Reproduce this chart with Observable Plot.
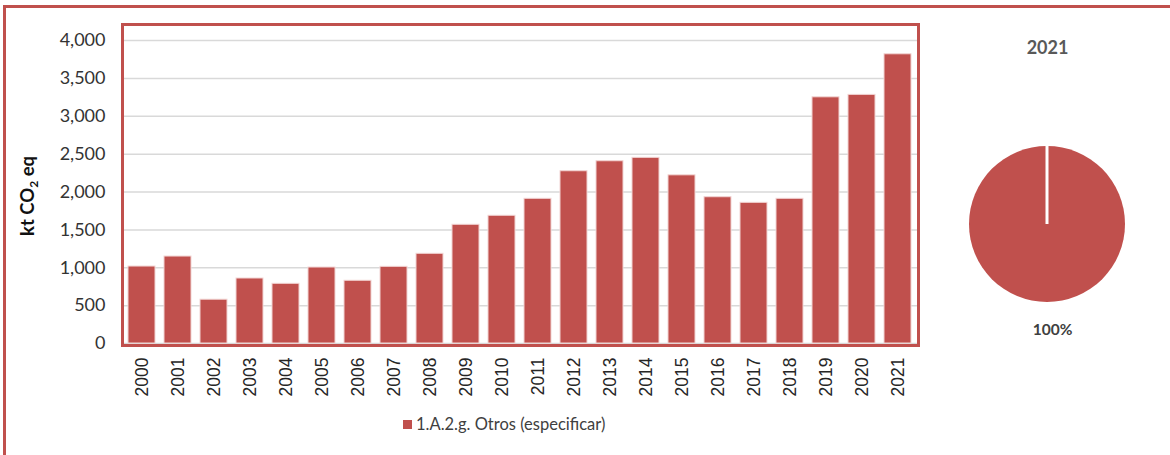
<!DOCTYPE html>
<html><head><meta charset="utf-8">
<script src="https://cdn.jsdelivr.net/npm/d3@7"></script>
<script src="https://cdn.jsdelivr.net/npm/@observablehq/plot@0.6"></script>
<style>
html,body{margin:0;padding:0;background:#fff;width:1170px;height:455px;overflow:hidden;font-family:Lato,sans-serif;}
#wrap{position:relative;width:1170px;height:455px;overflow:hidden;}
#box{position:absolute;left:3px;top:5px;width:1220px;height:520px;border:3px solid #c0504d;box-sizing:border-box;}
#bars{position:absolute;left:0;top:0;}
#pie{position:absolute;left:930px;top:0;}
#legend{position:absolute;left:403px;top:414px;font-size:16.5px;color:#404040;display:flex;align-items:center;white-space:nowrap;}
#legend .sw{display:inline-block;width:9px;height:9px;background:#c0504d;margin-right:4px;}
</style></head>
<body>
<div id="wrap">
  <div id="box"></div>
  <div id="bars"></div>
  <div id="pie"></div>
  <div id="legend"></div>
</div>
<script>
const years = ["2000","2001","2002","2003","2004","2005","2006","2007","2008","2009","2010","2011","2012","2013","2014","2015","2016","2017","2018","2019","2020","2021"];
const values = [1016,1148,578,858,788,1003,828,1012,1184,1567,1686,1910,2274,2406,2451,2220,1931,1857,1910,3250,3282,3818];
const yTicks = [0,500,1000,1500,2000,2500,3000,3500,4000];
const seriesName = "1.A.2.g. Otros (especificar)";
const yLabel = "kt CO2 eq";
const pieYear = "2021";
const pieCategories = [seriesName];
const pieShares = [100];

const color = "#c0504d";
const data = years.map((year, i) => ({year, value: values[i]}));

const bars = Plot.plot({
  width: 930, height: 455,
  marginLeft: 122, marginRight: 12, marginTop: 24, marginBottom: 110,
  style: {fontFamily: "Lato, sans-serif", background: "transparent"},
  x: {domain: years, range: [122, 918], paddingInner: 0.24, paddingOuter: 0.15, label: null},
  y: {domain: [0, 4000], range: [343, 40], label: null},
  marks: [
    Plot.gridY(yTicks, {stroke: "#d9d9d9", strokeOpacity: 1, strokeWidth: 1.5}),
    Plot.barY(data, {x: "year", y: "value", fill: color, stroke: "#f2d4d3", strokeWidth: 1}),
    Plot.frame({stroke: color, strokeWidth: 3}),
    Plot.axisY(yTicks, {tickSize: 0, tickPadding: 17, tickFormat: d3.format(","), fontSize: 18, fill: "#333", label: null}),
    Plot.axisX({tickSize: 0, tickRotate: -90, tickPadding: 12, fontSize: 17.5, fontFamily: "'Liberation Sans', Arial, sans-serif", fill: "#262626", label: null}),
    Plot.text([yLabel], {frameAnchor: "left", dx: -94, dy: 51, rotate: -90, fontSize: 18.5, fontWeight: "bold", fill: "#111", className: "ylab", style: "letter-spacing:0.6px"})
  ]
});
document.getElementById("bars").appendChild(bars);
// subscript the "2" of CO2
d3.select(bars).selectAll(".ylab text").each(function() {
  const t = d3.select(this);
  const s = t.text();
  const i = s.indexOf("CO2");
  if (i >= 0) {
    t.text(null);
    t.append("tspan").text(s.slice(0, i + 2));
    t.append("tspan").attr("font-size", 12).attr("dy", 4).text("2");
    t.append("tspan").attr("dy", -4).text(s.slice(i + 3));
  }
});

const pieData = pieCategories.map((category, i) => ({category, share: pieShares[i]}));

function pieMark(index, scales, values, dimensions) {
  const {width, height, marginLeft, marginRight, marginTop, marginBottom} = dimensions;
  const cx = marginLeft + (width - marginLeft - marginRight) / 2;
  const cy = marginTop + (height - marginTop - marginBottom) / 2;
  const r = (height - marginTop - marginBottom) / 2;
  const arcs = d3.pie().value(d => d.share).sort(null)(pieData);
  const g = d3.create("svg:g").attr("transform", `translate(${cx},${cy})`);
  g.selectAll("path").data(arcs).join("path")
    .attr("d", d3.arc().innerRadius(0).outerRadius(r))
    .attr("fill", color);
  g.selectAll("line").data(arcs).join("line")
    .attr("x1", 0).attr("y1", 0)
    .attr("x2", d => r * Math.sin(d.startAngle))
    .attr("y2", d => -r * Math.cos(d.startAngle))
    .attr("stroke", "#fff").attr("stroke-width", 3);
  return g.node();
}

const pie = Plot.plot({
  width: 240, height: 455,
  marginLeft: 39, marginRight: 45, marginTop: 146, marginBottom: 153,
  style: {fontFamily: "Lato, sans-serif", background: "transparent"},
  marks: [
    pieMark,
    Plot.text([pieYear], {frameAnchor: "top", lineAnchor: "middle", dy: -98, fontSize: 18, fontWeight: "bold", fill: "#595959", style: "letter-spacing:2px"}),
    Plot.text(pieData, {frameAnchor: "bottom", lineAnchor: "middle", dy: 28, dx: 5, text: d => d.share + "%", fontSize: 15.5, fontWeight: "bold", fill: "#404040", style: "letter-spacing:0.8px"})
  ]
});
document.getElementById("pie").appendChild(pie);

const leg = document.getElementById("legend");
leg.innerHTML = `<span class="sw"></span><span></span>`;
leg.lastChild.textContent = seriesName;
</script>
</body></html>
